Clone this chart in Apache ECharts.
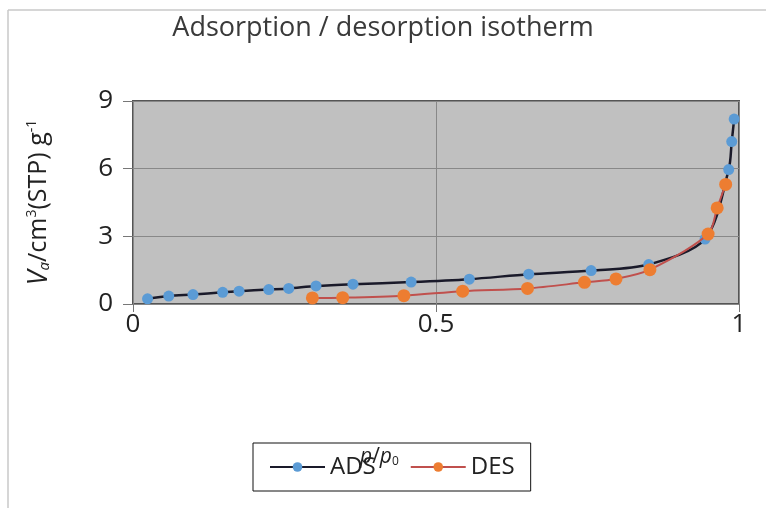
<!DOCTYPE html>
<html lang="en">
<head>
    <meta charset="UTF-8">
    <title>Adsorption / desorption isotherm</title>
    <script src="https://cdn.jsdelivr.net/npm/echarts@6/dist/echarts.min.js"></script>
    <style>
        html, body { margin: 0; padding: 0; background: #fff; }
        #chart { width: 766px; height: 508px; }
    </style>
</head>
<body>
<div id="chart"></div>
<script>
    // ADS / DES points: [p/p0, Va]
    var adsX = [0.024, 0.059, 0.099, 0.148, 0.175, 0.224, 0.257, 0.302, 0.363, 0.459, 0.555, 0.653, 0.756, 0.851, 0.944, 0.983, 0.988, 0.992];
    var adsY = [0.23, 0.35, 0.42, 0.52, 0.57, 0.64, 0.69, 0.8, 0.88, 0.97, 1.1, 1.32, 1.48, 1.75, 2.88, 5.96, 7.2, 8.2];
    var desX = [0.296, 0.346, 0.447, 0.544, 0.651, 0.745, 0.797, 0.853, 0.949, 0.964, 0.978];
    var desY = [0.27, 0.28, 0.37, 0.57, 0.69, 0.96, 1.11, 1.52, 3.1, 4.26, 5.3];
    var yTicks = [0, 3, 6, 9];
    var xTicks = [0, 0.5, 1];

    function pairs(xs, ys) {
        return xs.map(function (x, i) { return [x, ys[i]]; });
    }

    var font = '"Open Sans", "Liberation Sans", sans-serif';
    var chart = echarts.init(document.getElementById('chart'));
    chart.setOption({
        backgroundColor: '#fff',
        animation: false,
        title: {
            text: 'Adsorption / desorption isotherm',
            left: 'center',
            top: 10,
            textStyle: { fontFamily: font, fontSize: 27, fontWeight: 'normal', color: '#3a3a3a' }
        },
        graphic: [
            // outer frame (left + top edges visible)
            { type: 'line', shape: { x1: 8, y1: 10, x2: 8, y2: 508 }, style: { stroke: '#c8c8c8', lineWidth: 1.5 } },
            { type: 'line', shape: { x1: 8, y1: 10, x2: 766, y2: 10 }, style: { stroke: '#c8c8c8', lineWidth: 1.5 } },
            {
                type: 'text', left: 360, top: 447, z: 200,
                style: {
                    text: '{i|p}{n|/}{i|p}{s|0}',
                    rich: {
                        i: { fontFamily: font, fontSize: 21, fontStyle: 'italic', fill: '#222' },
                        n: { fontFamily: font, fontSize: 21, fill: '#222' },
                        s: { fontFamily: font, fontSize: 12, fill: '#222', verticalAlign: 'bottom', padding: [8, 0, 0, 0] }
                    }
                }
            }
        ],
        grid: {
            left: 133, right: 27, top: 101, bottom: 204,
            show: true, backgroundColor: '#c0c0c0', borderColor: '#555', borderWidth: 2
        },
        legend: {
            left: 253, top: 443,
            padding: [12, 16],
            borderColor: '#111', borderWidth: 1,
            itemWidth: 55, itemHeight: 12, itemGap: 34,
            textStyle: { fontFamily: font, fontSize: 24, color: '#222' },
            data: ['ADS', 'DES']
        },
        xAxis: {
            type: 'value',
            min: 0, max: 1, interval: 0.5,
            axisLine: { show: false },
            axisTick: { show: true, length: 8, lineStyle: { color: '#777' } },
            splitLine: { show: true, lineStyle: { color: '#888', width: 1 } },
            axisLabel: {
                fontFamily: font, fontSize: 26, color: '#222', margin: 8,
                formatter: function (v) { return xTicks.indexOf(v) >= 0 ? String(v) : ''; }
            }
        },
        yAxis: {
            type: 'value',
            min: 0, max: 9, interval: 3,
            axisLine: { show: false },
            axisTick: { show: true, length: 10, lineStyle: { color: '#777' } },
            splitLine: { show: true, lineStyle: { color: '#888', width: 1 } },
            axisLabel: {
                fontFamily: font, fontSize: 26, color: '#222', margin: 20,
                formatter: function (v) { return yTicks.indexOf(v) >= 0 ? String(v) : ''; }
            },
            name: '{i|V}{b|a}{n|/cm}{p|3}{n|(STP) g}{p|-1}',
            nameLocation: 'middle',
            nameGap: 80,
            nameTextStyle: {
                rich: {
                    i: { fontFamily: font, fontSize: 27, fontStyle: 'italic', color: '#222' },
                    b: { fontFamily: font, fontSize: 15, fontStyle: 'italic', color: '#222', padding: [12, 0, 0, 0] },
                    n: { fontFamily: font, fontSize: 25, color: '#222' },
                    p: { fontFamily: font, fontSize: 14, color: '#222', padding: [0, 0, 14, 0] }
                }
            }
        },
        series: [
            {
                name: 'ADS', type: 'line', smooth: 0.3,
                symbol: 'circle', symbolSize: 11,
                lineStyle: { color: '#1a1a2a', width: 2.5 },
                itemStyle: { color: '#5b9bd5' },
                data: pairs(adsX, adsY), z: 3
            },
            {
                name: 'DES', type: 'line', smooth: 0.3,
                symbol: 'circle', symbolSize: 13,
                lineStyle: { color: '#c0504d', width: 2 },
                itemStyle: { color: '#ed7d31' },
                data: pairs(desX, desY), z: 4
            }
        ]
    });
</script>
</body>
</html>
